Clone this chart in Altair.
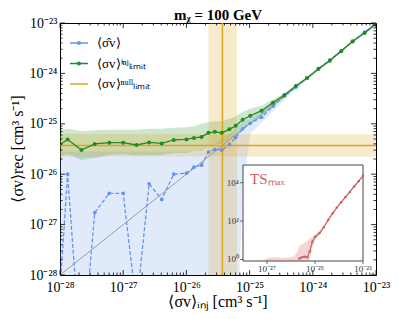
import altair as alt
import pandas as pd

# ---------------- data (log10 values) ----------------
x_log = [-28.0, -27.88, -27.66, -27.45, -27.22, -27.0, -26.79, -26.59, -26.39, -26.2,
         -26.0, -25.88, -25.76, -25.65, -25.55, -25.44, -25.32, -25.22, -25.11, -24.99,
         -24.81, -24.63, -24.45, -24.27, -24.09, -23.91, -23.73, -23.55, -23.37, -23.18, -23.0]

green_log = [-25.41, -25.31, -25.52, -25.40, -25.375, -25.375, -25.42, -25.37, -25.39, -25.32,
             -25.31, -25.28, -25.26, -25.18, -25.16, -25.18, -25.11, -25.04, -24.92, -24.84,
             -24.74, -24.58, -24.43, -24.25, -24.09, -23.91, -23.75, -23.56, -23.36, -23.20, -23.02]
green_lo_log = [-25.65, -25.60, -25.72, -25.68, -25.62, -25.60, -25.63, -25.62, -25.62, -25.58,
                -25.58, -25.55, -25.52, -25.45, -25.40, -25.40, -25.32, -25.25, -25.10, -25.00,
                -24.86, -24.66, -24.48, -24.28, -24.11, -23.93, -23.77, -23.58, -23.38, -23.22, -23.04]
green_hi_log = [-25.12, -25.10, -25.15, -25.13, -25.12, -25.12, -25.12, -25.10, -25.10, -25.08,
                -25.07, -25.05, -25.00, -24.97, -24.95, -24.95, -24.90, -24.85, -24.76, -24.70,
                -24.64, -24.52, -24.40, -24.23, -24.07, -23.89, -23.73, -23.54, -23.34, -23.18, -23.0]

blue_log = [-28.3, -26.0, -29.8, -26.76, -26.38, -26.38, -28.63, -26.19, -26.50, -26.0,
            -25.98, -25.86, -25.82, -25.56, -25.51, -25.52, -25.41, -25.27, -25.10, -24.99,
            -24.87, -24.65, -24.45, -24.27, -24.09, -23.91, -23.73, -23.55, -23.37, -23.18, -23.0]
blue_lo_log = [-30.0, -30.0, -30.0, -30.0, -30.0, -30.0, -30.0, -30.0, -30.0, -30.0,
               -30.0, -30.0, -30.0, -30.0, -30.0, -30.0, -30.0, -30.0, -26.3, -25.2,
               -24.98, -24.75, -24.53, -24.33, -24.14, -23.95, -23.76, -23.57, -23.39, -23.19, -23.0]
blue_hi_log = [-25.55, -25.55, -25.55, -25.55, -25.55, -25.55, -25.55, -25.55, -25.55, -25.55,
               -25.55, -25.55, -25.5, -25.45, -25.38, -25.3, -25.2, -25.08, -24.97, -24.88,
               -24.74, -24.58, -24.42, -24.25, -24.07, -23.89, -23.72, -23.54, -23.36, -23.18, -23.0]

null_log = -25.43
null_lo_log = -25.65
null_hi_log = -25.20

ts_log = [None, None, None, None, None, None, None, None, None, None,
          None, None, None, 0.05, 0.11, 0.14, 0.12, 0.42, 0.92, 1.18,
          1.38, 1.68, 2.06, 2.40, 2.70, 2.98, 3.25, 3.52, 3.80, 4.08, 4.36]
ts_lo_log = [-1, -1, -1, -1, -1, -1, -1, -1, -1, -1,
             -1, -1, -1, -1, -1, -1, -0.6, -0.1, 0.6, 1.05,
             1.3, 1.63, 2.02, 2.36, 2.66, 2.94, 3.21, 3.48, 3.76, 4.04, 4.32]
ts_hi_log = [-1, -1, -1, -1, -1, 0.05, 0.1, 0.12, 0.08, 0.1,
             0.12, 0.15, 0.35, 0.7, 0.78, 0.85, 0.98, 1.08, 1.18, 1.3,
             1.45, 1.73, 2.10, 2.44, 2.74, 3.02, 3.29, 3.56, 3.84, 4.12, 4.40]

main_exps = [-28, -27, -26, -25, -24, -23]
main_labels = ["10⁻²⁸", "10⁻²⁷", "10⁻²⁶", "10⁻²⁵", "10⁻²⁴", "10⁻²³"]
inset_x_exps = [-27, -25, -23]
inset_x_labels = ["10⁻²⁷", "10⁻²⁵", "10⁻²³"]
inset_y_exps = [0, 2, 4]
inset_y_labels = ["10⁰", "10²", "10⁴"]

legend_labels = ["⟨σ̂v⟩", "⟨σv⟩ⁱⁿʲₗᵢₘᵢₜ", "⟨σv⟩ⁿᵘˡˡₗᵢₘᵢₜ"]
title_text = "mᵪ = 100 GeV"
x_title = "⟨σv⟩ᵢₙⱼ  [cm³ s⁻¹]"
y_title = "⟨σv⟩rec  [cm³ s⁻¹]"
ts_text = "TSₘₐₓ"

# ---------------- styling ----------------
BLUE = "#6495ED"
GREEN = "#228B22"
ORANGE = "#DAA520"
RED = "#CD5C5C"
SERIF = "Liberation Serif"
W, H = 316, 252

AX_MIN, AX_MAX = 1e-28, 1e-23
IN_Y_MIN, IN_Y_MAX = 10 ** -0.08, 10 ** 4.92

p = lambda v: None if v is None else 10.0 ** v

df = pd.DataFrame({
    "x": [p(v) for v in x_log],
    "green": [p(v) for v in green_log],
    "glo": [p(v) for v in green_lo_log],
    "ghi": [p(v) for v in green_hi_log],
    "blue": [p(v) for v in blue_log],
    "blo": [p(v) for v in blue_lo_log],
    "bhi": [p(v) for v in blue_hi_log],
    "ts": [p(v) for v in ts_log],
    "tlo": [p(v) for v in ts_lo_log],
    "thi": [p(v) for v in ts_hi_log],
})

null_df = pd.DataFrame({"v": [p(null_log)], "lo": [p(null_lo_log)], "hi": [p(null_hi_log)],
                        "amin": [AX_MIN], "amax": [AX_MAX]})
diag_df = pd.DataFrame({"x": [AX_MIN, AX_MAX], "y": [AX_MIN, AX_MAX]})
box_df = pd.DataFrame({"x": [AX_MIN], "x2": [AX_MAX], "y": [IN_Y_MIN], "y2": [IN_Y_MAX]})
major_df = pd.DataFrame({"t": [10.0 ** e for e in main_exps]})
minor_df = pd.DataFrame({"t": [m * 10.0 ** e for e in main_exps[:-1] for m in range(2, 10)]})
ix_df = pd.DataFrame({"v": [10.0 ** e for e in inset_x_exps], "lab": inset_x_labels})
iy_df = pd.DataFrame({"v": [10.0 ** e for e in inset_y_exps], "lab": inset_y_labels})
one = pd.DataFrame({"a": [0]})

E = "round(log(datum.value)/LN10)"


def label_expr(exps, labels):
    expr = "''"
    for ex, lab in reversed(list(zip(exps, labels))):
        expr = f"{E} == {ex} ? '{lab}' : {expr}"
    return expr


common_axis = dict(values=[10.0 ** e for e in main_exps], ticks=False, domain=False,
                   labelFlush=False, labelOverlap=False, grid=False, labelFont=SERIF,
                   labelFontSize=14, labelColor="black",
                   labelExpr=label_expr(main_exps, main_labels))
x_axis = alt.Axis(labelPadding=5, **common_axis)
y_axis = alt.Axis(labelPadding=3, **common_axis)

xs = alt.Scale(type="log", domain=[AX_MIN, AX_MAX], nice=False)
ys = alt.Scale(type="log", domain=[AX_MIN, AX_MAX], nice=False)


def X(f):
    return alt.X(f, type="quantitative", scale=xs, axis=x_axis, title="")


def Y(f):
    return alt.Y(f, type="quantitative", scale=ys, axis=y_axis, title="")


base = alt.Chart(df)

blue_band = base.mark_area(color=BLUE, opacity=0.2, clip=True).encode(X("x"), Y("blo"), y2="bhi")
green_band = base.mark_area(color=GREEN, opacity=0.22, clip=True).encode(X("x"), Y("glo"), y2="ghi")
hband = alt.Chart(null_df).mark_rect(color=ORANGE, opacity=0.22).encode(
    X("amin"), x2="amax", y=Y("lo"), y2="hi")
vband = alt.Chart(null_df).mark_rect(color=ORANGE, opacity=0.22).encode(
    X("lo"), x2="hi", y=Y("amin"), y2="amax")
diag = alt.Chart(diag_df).mark_line(color="#888888", strokeWidth=0.8).encode(X("x"), Y("y"))
hline = alt.Chart(null_df).mark_rule(color=ORANGE, strokeWidth=1.5).encode(y=Y("v"))
vline = alt.Chart(null_df).mark_rule(color=ORANGE, strokeWidth=1.5).encode(x=X("v"))
blue_line = base.mark_line(color=BLUE, strokeWidth=1.3, strokeDash=[4, 2], clip=True).encode(X("x"), Y("blue"))
blue_pts = base.mark_circle(color=BLUE, size=14, opacity=1, clip=True).encode(X("x"), Y("blue"))
green_line = base.mark_line(color=GREEN, strokeWidth=1.3, clip=True).encode(X("x"), Y("green"))
green_pts = base.mark_circle(color=GREEN, size=16, opacity=1, clip=True).encode(X("x"), Y("green"))

# inward ticks on all four sides
ticks = []
for tdf, size in ((major_df, 5), (minor_df, 2.5)):
    tk = alt.Chart(tdf).mark_rule(color="black", strokeWidth=0.8)
    ticks += [
        tk.encode(x=X("t"), y=alt.value(H), y2=alt.value(H - size)),
        tk.encode(x=X("t"), y=alt.value(0), y2=alt.value(size)),
        tk.encode(y=Y("t"), x=alt.value(0), x2=alt.value(size)),
        tk.encode(y=Y("t"), x=alt.value(W), x2=alt.value(W - size)),
    ]

leg = []
for i, (lab, col) in enumerate(zip(legend_labels, [BLUE, GREEN, ORANGE])):
    yy = 20 + 20.5 * i
    leg.append(alt.Chart(one).mark_rule(color=col, strokeWidth=1.5).encode(
        x=alt.value(10), x2=alt.value(28), y=alt.value(yy)))
    if i < 2:
        leg.append(alt.Chart(one).mark_circle(color=col, size=16, opacity=1).encode(
            x=alt.value(19), y=alt.value(yy)))
    leg.append(alt.Chart(one).mark_text(text=lab, font=SERIF, fontSize=13, align="left",
                                        baseline="middle", color="black").encode(
        x=alt.value(37), y=alt.value(yy)))

titles = [
    alt.Chart(one).mark_text(text=title_text, font=SERIF, fontSize=15, fontWeight="bold",
                             align="center", baseline="alphabetic", color="black").encode(
        x=alt.value(W / 2), y=alt.value(-3)),
    alt.Chart(one).mark_text(text=x_title, font=SERIF, fontSize=16, align="center",
                             baseline="middle", color="black").encode(
        x=alt.value(W / 2), y=alt.value(H + 27)),
    alt.Chart(one).mark_text(text=y_title, font=SERIF, fontSize=16, align="center",
                             baseline="middle", angle=270, color="black").encode(
        x=alt.value(-42), y=alt.value(H / 2)),
]

main = alt.layer(blue_band, green_band, hband, vband, diag, hline, vline,
                 blue_line, blue_pts, green_line, green_pts, *ticks, *leg, *titles)

# ---------------- inset ----------------
ixs = alt.Scale(type="log", domain=[AX_MIN, AX_MAX], range=[183, 303], nice=False)
iys = alt.Scale(type="log", domain=[IN_Y_MIN, IN_Y_MAX], range=[238, 142], nice=False, clamp=True)


def IX(f):
    return alt.X(f, type="quantitative", scale=ixs, axis=None)


def IY(f):
    return alt.Y(f, type="quantitative", scale=iys, axis=None)


inset_bg = alt.Chart(box_df).mark_rect(fill="white", stroke="#444444", strokeWidth=1).encode(
    IX("x"), x2="x2", y=IY("y"), y2="y2")
red_band = base.mark_area(color=RED, opacity=0.25).encode(IX("x"), IY("tlo"), y2="thi")
red_line = base.mark_line(color=RED, strokeWidth=1.2).encode(IX("x"), IY("ts"))
red_pts = base.mark_circle(color=RED, size=6, opacity=1).encode(IX("x"), IY("ts"))
ts_label = alt.Chart(one).mark_text(text=ts_text, font=SERIF, fontSize=15, align="left",
                                    baseline="middle", color=RED).encode(
    x=alt.value(190), y=alt.value(156))
ix_ticks = alt.Chart(ix_df).mark_rule(color="#444444", strokeWidth=0.8).encode(
    x=IX("v"), y=alt.value(238), y2=alt.value(241))
iy_ticks = alt.Chart(iy_df).mark_rule(color="#444444", strokeWidth=0.8).encode(
    y=IY("v"), x=alt.value(183), x2=alt.value(180))
ix_labels = alt.Chart(ix_df).mark_text(font=SERIF, fontSize=9, color="#333333", align="center",
                                       baseline="top").encode(x=IX("v"), y=alt.value(242), text="lab:N")
iy_labels = alt.Chart(iy_df).mark_text(font=SERIF, fontSize=9, color="#333333", align="right",
                                       baseline="middle").encode(y=IY("v"), x=alt.value(179), text="lab:N")

inset = alt.layer(inset_bg, red_band, red_line, red_pts, ts_label, ix_ticks, iy_ticks, ix_labels, iy_labels)

chart = alt.layer(main, inset).resolve_scale(x="independent", y="independent").properties(
    width=W, height=H,
    autosize=alt.AutoSizeParams(type="none"),
    padding={"left": 52, "top": 15, "right": 15, "bottom": 40},
).configure_view(stroke="black", strokeWidth=1)

chart.save("out.html", embed_options={"renderer": "svg", "actions": False})
